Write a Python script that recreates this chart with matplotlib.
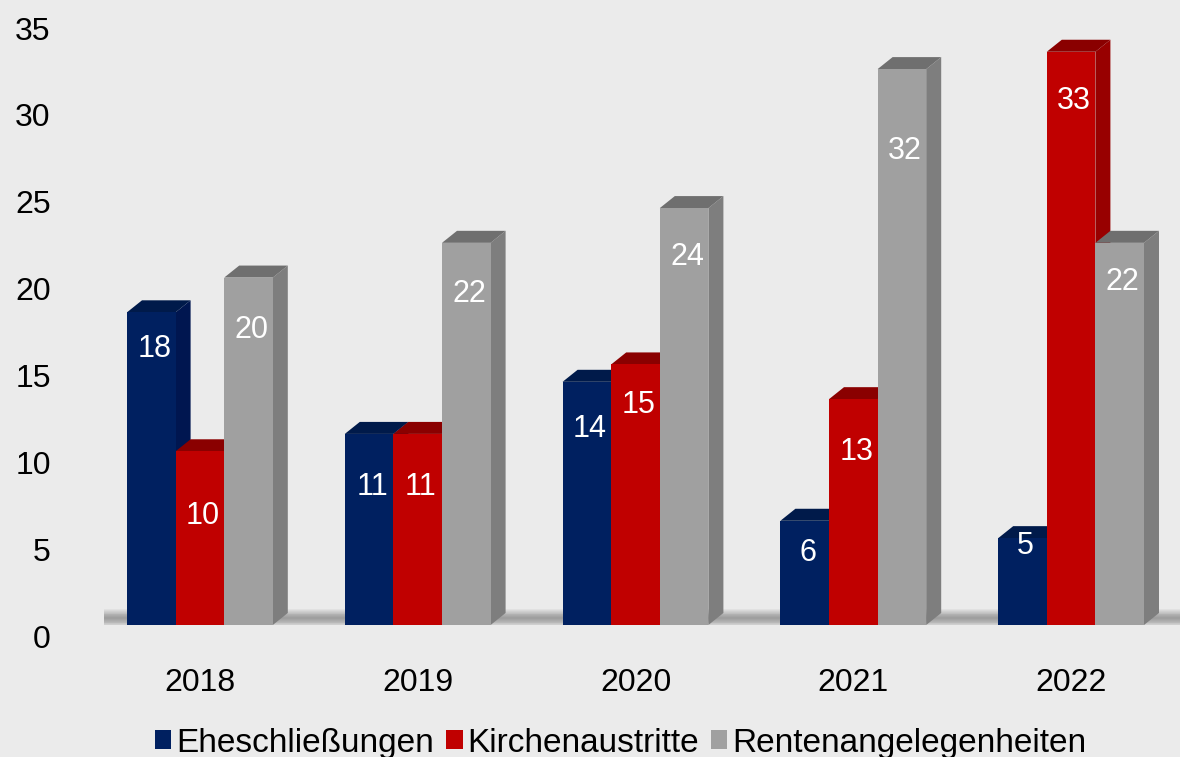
import numpy as np
import matplotlib.pyplot as plt
from matplotlib.patches import Polygon

plt.rcParams['font.family'] = ['Liberation Sans', 'DejaVu Sans']

# data
years = ['2018', '2019', '2020', '2021', '2022']
series = ['Eheschließungen', 'Kirchenaustritte', 'Rentenangelegenheiten']
ehe = [18, 11, 14, 6, 5]
kirche = [10, 11, 15, 13, 33]
rente = [20, 22, 24, 32, 22]
values = [ehe, kirche, rente]

# how far below the bar top each value label sits (data units)
label_drop = [
    [1.5, 2.4, 2.1, 1.2, -0.2],
    [3.1, 2.4, 1.7, 2.4, 2.2],
    [2.4, 2.3, 2.2, 4.1, 1.6],
]

front = ['#002060', '#c00000', '#a0a0a0']
top = ['#001a4a', '#8a0000', '#6f6f6f']
side = ['#001650', '#980000', '#7e7e7e']
bg = '#ebebeb'

W, H = 1180, 757
fig = plt.figure(figsize=(W / 100, H / 100), dpi=100, facecolor=bg)
ax = fig.add_axes([91 / W, (H - 636) / H, 1089 / W, 608 / H])
ax.set_facecolor(bg)
ax.set_xlim(-0.5, 4.5)
ax.set_ylim(0, 35)

# pixel -> data helpers for the 3d look
px_x = 5 / 1089
px_y = 35 / 608
w = 48.6 * px_x
dx = 15 * px_x
dy = 12 * px_y
lift = 11 * px_y

x = np.arange(len(years))

# soft floor shadow
yc = lift + 7 * px_y
for k in range(10):
    h = (10 - k) * 0.9 * px_y
    ax.fill_between([-0.44, 4.5], yc - h, yc + h, color='#444444', alpha=0.055,
                    lw=0, zorder=1)
ax.fill_between([-0.5, 4.5], -1, lift, color=bg, lw=0, zorder=1.5)

for s in range(3):
    xs = x + (s - 1) * w
    ax.bar(xs, values[s], width=w, bottom=lift, color=front[s], zorder=3,
           label=series[s])
    for i, v in enumerate(values[s]):
        xl, xr = xs[i] - w / 2, xs[i] + w / 2
        yt = lift + v
        ax.add_patch(Polygon([(xr, lift), (xr + dx, lift + dy), (xr + dx, yt + dy), (xr, yt)],
                             closed=True, color=side[s], lw=0, zorder=2.5))
        ax.add_patch(Polygon([(xl, yt), (xr, yt), (xr + dx, yt + dy), (xl + dx, yt + dy)],
                             closed=True, color=top[s], lw=0, zorder=2.5))
        ax.text(xs[i] + 3 * px_x, v - label_drop[s][i], str(v), color='white',
                fontsize=22, ha='center', va='center', zorder=4)

for sp in ax.spines.values():
    sp.set_visible(False)
ax.set_xticks(x)
ax.set_xticklabels(years)
ax.set_yticks(range(0, 36, 5))
ax.tick_params(axis='both', length=0, labelsize=23, colors='black')
ax.tick_params(axis='x', pad=23)
ax.tick_params(axis='y', pad=29)

leg = fig.legend(loc='lower center', bbox_to_anchor=(0.526, -0.042), ncol=3,
                 frameon=False, fontsize=24, handlelength=0.5, handleheight=0.5,
                 handletextpad=0.15, columnspacing=0.35)

fig.savefig('out.png', dpi=100, facecolor=bg)
